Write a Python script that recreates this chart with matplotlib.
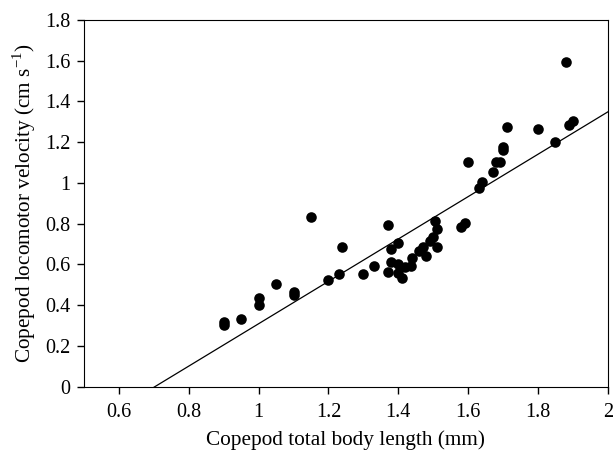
import matplotlib
matplotlib.use("Agg")
import matplotlib.pyplot as plt
from matplotlib.ticker import FuncFormatter
import numpy as np

# body length (mm) and locomotor velocity (cm/s)
bodyLength = [
    0.90, 0.90, 0.95, 1.00, 1.00, 1.05, 1.10, 1.10, 1.15, 1.20,
    1.23, 1.24, 1.30, 1.33, 1.37, 1.37, 1.38, 1.38, 1.40, 1.40,
    1.40, 1.41, 1.42, 1.435, 1.44, 1.46, 1.47, 1.48, 1.49, 1.50,
    1.505, 1.51, 1.51, 1.58, 1.59, 1.60, 1.63, 1.64, 1.67, 1.68,
    1.69, 1.70, 1.70, 1.71, 1.80, 1.85, 1.88, 1.89, 1.90,
]
velocity = [
    0.316, 0.303, 0.332, 0.434, 0.401, 0.504, 0.463, 0.450, 0.832, 0.524,
    0.553, 0.684, 0.553, 0.594, 0.794, 0.565, 0.674, 0.611, 0.707, 0.602,
    0.560, 0.535, 0.586, 0.594, 0.633, 0.668, 0.684, 0.642, 0.717, 0.733,
    0.815, 0.773, 0.684, 0.785, 0.805, 1.103, 0.974, 1.003, 1.052, 1.101,
    1.101, 1.162, 1.178, 1.273, 1.264, 1.203, 1.593, 1.285, 1.306,
]

# regression line
fitSlope = 1.04
fitIntercept = -0.731
fitRange = [0.5, 2.0]

plt.rcParams["font.family"] = ["Liberation Serif", "DejaVu Serif"]
plt.rcParams["mathtext.fontset"] = "custom"
plt.rcParams["mathtext.rm"] = "Liberation Serif"

fig = plt.figure(figsize=(6.14, 4.51), dpi=100)
ax = fig.add_axes([0.1368, 0.1426, 0.8532, 0.8131])

ax.scatter(bodyLength, velocity, s=58, color="black", zorder=3, linewidths=0)

xLine = np.array(fitRange)
ax.plot(xLine, fitSlope * xLine + fitIntercept, color="black", linewidth=0.9)

ax.set_xlim(0.5, 2.0)
ax.set_ylim(0, 1.8)
ax.set_xticks([0.6, 0.8, 1.0, 1.2, 1.4, 1.6, 1.8, 2.0])
ax.set_yticks([0, 0.2, 0.4, 0.6, 0.8, 1.0, 1.2, 1.4, 1.6, 1.8])
fmt = FuncFormatter(lambda v, pos: f"{v:g}")
ax.xaxis.set_major_formatter(fmt)
ax.yaxis.set_major_formatter(fmt)
ax.tick_params(direction="out", length=5, width=1, labelsize=14.5)
ax.tick_params(axis="x", pad=7)
ax.tick_params(axis="y", pad=5)

ax.set_xlabel("Copepod total body length (mm)", fontsize=15.3, labelpad=6)
ax.set_ylabel("Copepod locomotor velocity (cm s$^{-1}$)", fontsize=15.3, labelpad=5)

fig.savefig("out.png", dpi=100)
